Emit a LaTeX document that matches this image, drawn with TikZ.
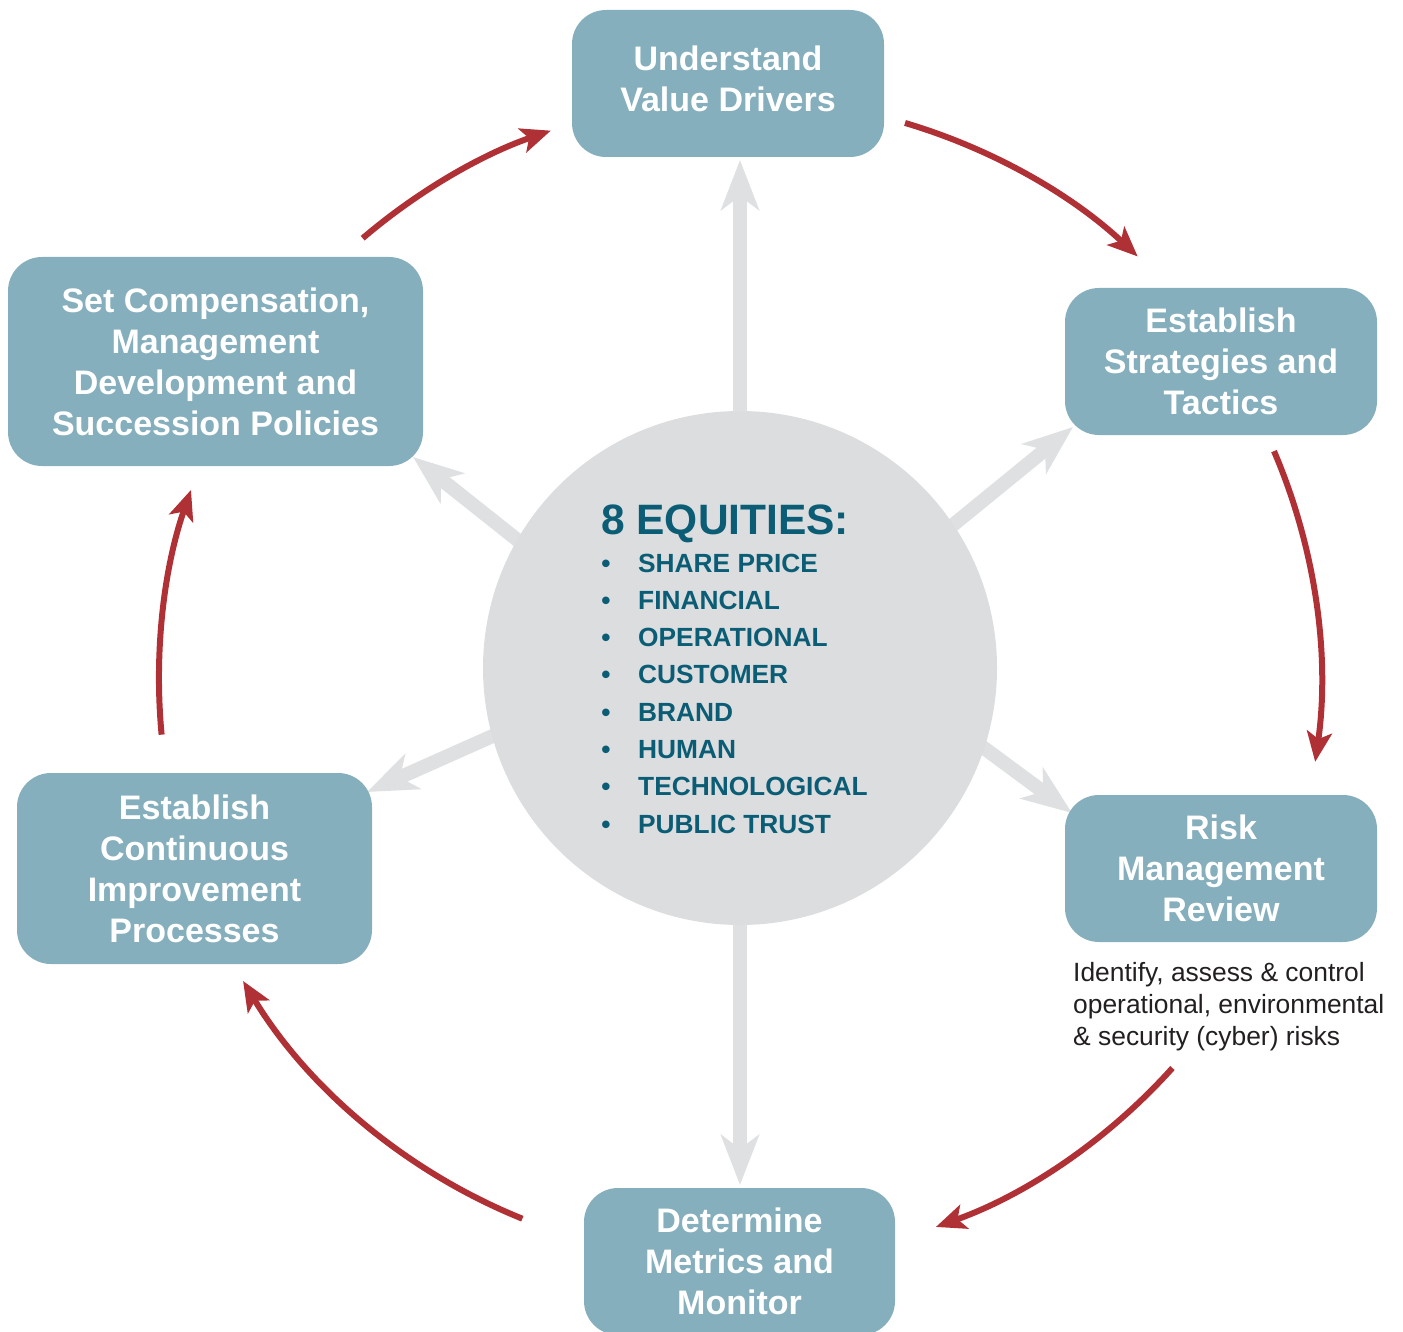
\documentclass[tikz,border=0pt]{standalone}
\usepackage{fontspec}
\setmainfont{Liberation Sans}
\usetikzlibrary{arrows.meta}
\definecolor{boxteal}{HTML}{85AFBC}
\definecolor{hubgrey}{HTML}{DCDDDF}
\definecolor{spokegrey}{HTML}{DFE0E2}
\definecolor{flowred}{HTML}{B03135}
\definecolor{eqteal}{HTML}{0B5D75}
\definecolor{notegrey}{HTML}{231F20}
\begin{document}
\begin{tikzpicture}[x=1pt,y=-1pt,
  stage/.style={fill=boxteal, rounded corners=34pt, text=white, inner sep=0pt,
    font=\bfseries\fontsize{34}{41}\selectfont, align=center},
  spoke/.style={draw=spokegrey, line width=14pt,
    -{Stealth[length=50pt,width=38pt,inset=14pt]}},
  flow/.style={draw=flowred, line width=6pt,
    -{Stealth[length=30pt,width=25pt,inset=7pt]}},
  eqhead/.style={text=eqteal, inner sep=0pt, font=\bfseries\fontsize{42.5}{48}\selectfont},
  eqitem/.style={text=eqteal, inner sep=0pt, font=\bfseries\fontsize{26.3}{30}\selectfont},
  note/.style={text=notegrey, inner sep=0pt, align=left, font=\fontsize{26.4}{32}\selectfont}]

\useasboundingbox (0,0) rectangle (1403,1332);

% spokes radiating from the hub (hub is drawn over their tails)
\coordinate (sU0) at (740,500);  \coordinate (sU1) at (740,160);
\coordinate (sD0) at (740,840);  \coordinate (sD1) at (740,1185);
\coordinate (sUR0) at (893,574); \coordinate (sUR1) at (1073,427);
\coordinate (sDR0) at (919,700); \coordinate (sDR1) at (1072,813);
\coordinate (sUL0) at (569,581); \coordinate (sUL1) at (413,457);
\coordinate (sDL0) at (551,710); \coordinate (sDL1) at (367,792);
\draw[spoke] (sU0) -- (sU1);
\draw[spoke] (sD0) -- (sD1);
\draw[spoke] (sUR0) -- (sUR1);
\draw[spoke] (sDR0) -- (sDR1);
\draw[spoke] (sUL0) -- (sUL1);
\draw[spoke] (sDL0) -- (sDL1);

% hub
\node[circle, fill=hubgrey, minimum size=514pt, inner sep=0pt] (eq) at (740,668) {};

% stages of the cycle
\node[stage, minimum width=312pt, minimum height=147pt, text depth=9pt] (ub) at (728,83.5)
  {Understand\\Value Drivers};
\node[stage, minimum width=312pt, minimum height=147pt] (st) at (1221,361.5)
  {Establish\\Strategies and\\Tactics};
\node[stage, minimum width=312pt, minimum height=147pt] (rk) at (1221,868.5)
  {Risk\\Management\\Review};
\node[stage, minimum width=311pt, minimum height=147pt] (dm) at (739.5,1261.5)
  {Determine\\Metrics and\\Monitor};
\node[stage, minimum width=355pt, minimum height=191pt] (ec) at (194.5,868.5)
  {Establish\\Continuous\\Improvement\\Processes};
\node[stage, minimum width=415pt, minimum height=209pt] (sc) at (215.5,361.5)
  {Set Compensation,\\Management\\Development and\\Succession Policies};

\node[note, anchor=north west] (riskNote) at (1073,962)
  {Identify, assess \& control\\operational, environmental\\\& security (cyber) risks};

% hub contents
\node[eqhead, anchor=base west] (eqTitle) at (601,534) {8 EQUITIES:};
\foreach \t [count=\i from 0] in {SHARE PRICE, FINANCIAL, OPERATIONAL, CUSTOMER,
    BRAND, HUMAN, TECHNOLOGICAL, PUBLIC TRUST} {
  \node[eqitem, anchor=base] (eqDot\i) at (606, 572+37.3*\i) {\textbullet};
  \node[eqitem, anchor=base west] (eqItem\i) at (638, 572+37.3*\i) {\t};
}

% red cycle arrows on a common ring
\coordinate (ring) at (740,680);
\coordinate (f1) at ([shift={(-73.5:581)}]ring);
\coordinate (f2) at ([shift={(-23.2:581)}]ring);
\coordinate (f3) at ([shift={(41.9:581)}]ring);
\coordinate (f4) at ([shift={(112.0:581)}]ring);
\coordinate (f5) at ([shift={(174.6:581)}]ring);
\coordinate (f6) at ([shift={(229.5:581)}]ring);
\draw[flow] (f1) arc[start angle=-73.5, end angle=-46.8, radius=581];
\draw[flow] (f2) arc[start angle=-23.2, end angle=8.1, radius=581];
\draw[flow] (f3) arc[start angle=41.9, end angle=70.3, radius=581];
\draw[flow] (f4) arc[start angle=112.0, end angle=148.8, radius=581];
\draw[flow] (f5) arc[start angle=174.6, end angle=199.1, radius=581];
\draw[flow] (f6) arc[start angle=229.5, end angle=251.0, radius=581];
\end{tikzpicture}
\end{document}
